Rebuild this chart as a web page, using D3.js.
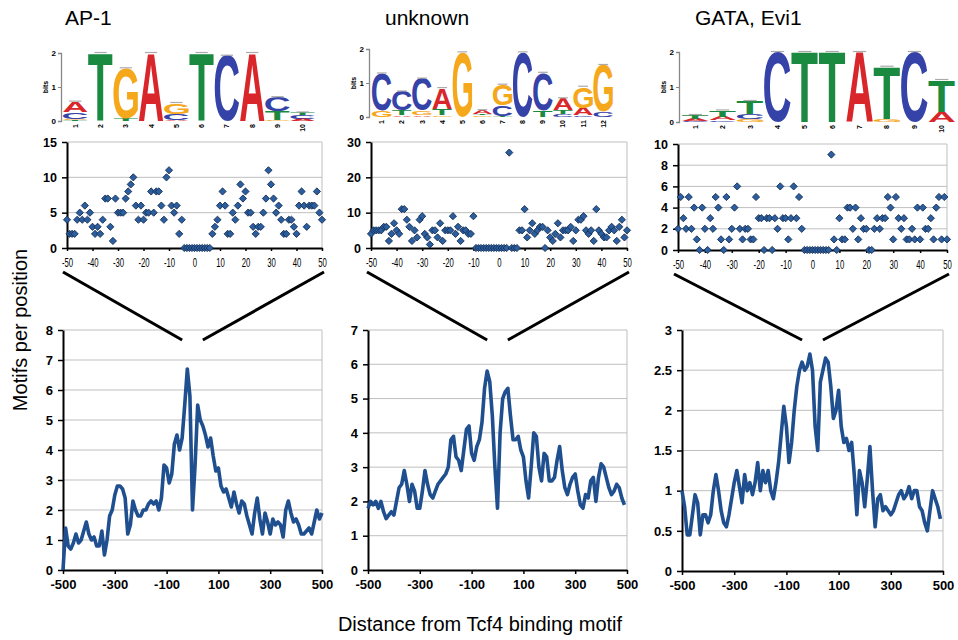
<!DOCTYPE html>
<html><head><meta charset="utf-8">
<script src="https://cdn.jsdelivr.net/npm/d3@7"></script>
<style>
body{margin:0;background:#fff;}
text{font-family:"Liberation Sans",Arial,Helvetica,sans-serif;}
</style>
</head><body>
<svg id="c" width="958" height="640"></svg>
<script>
// ---------------- DATA ----------------
const titles = ["AP-1", "unknown", "GATA, Evi1"];
const yAxisTitle = "Motifs per position";
const xAxisTitle = "Distance from Tcf4 binding motif";

// sequence logos: columns, each a bottom-to-top stack of [letter, bits]
const logoAP1 = [
  [["T",0.03],["G",0.04],["C",0.2],["A",0.3]],
  [["T",2.0]],
  [["T",0.08],["G",1.47]],
  [["A",2.0]],
  [["A",0.04],["C",0.17],["G",0.32]],
  [["T",2.0]],
  [["C",1.92]],
  [["A",2.0]],
  [["G",0.03],["T",0.25],["C",0.42]],
  [["A",0.06],["C",0.12],["T",0.07]]
];
const logoUnknown = [
  [["G",0.18],["C",1.1]],
  [["A",0.05],["T",0.14],["C",0.56]],
  [["A",0.05],["G",0.13],["C",0.95]],
  [["G",0.05],["T",0.2],["A",0.6]],
  [["G",1.9]],
  [["G",0.05],["T",0.05],["A",0.1]],
  [["T",0.03],["C",0.3],["G",0.62]],
  [["C",1.9]],
  [["T",0.2],["C",1.1]],
  [["C",0.08],["T",0.12],["A",0.35]],
  [["C",0.05],["A",0.22],["G",0.62]],
  [["C",0.15],["G",1.38]]
];
const logoGATA = [
  [["C",0.03],["A",0.07],["T",0.1]],
  [["C",0.05],["A",0.1],["T",0.18]],
  [["G",0.08],["C",0.15],["T",0.37]],
  [["C",2.0]],
  [["T",2.0]],
  [["T",2.0]],
  [["A",2.0]],
  [["G",0.08],["T",1.5]],
  [["C",2.0]],
  [["A",0.3],["T",0.9]]
];
const logoTicks = [0, 1, 2];

// zoomed scatter: motifs per position for -50..50
const scatterX = d3.range(-50, 51);
const scatterAP1 = [
  4,2,2,2,4,5,4,6,4,5, 3,2,3,2,4,7,7,3,1,7, 5,5,5,7,8,9,10,6,4,6,
  4,5,5,8,5,8,8,6,4,10, 11,6,5,6,2,4,
  0,0,0,0,0,0,0,0,0,0,0,
  2,3,4,6, 8,6,2,2,5,4,6,9,7,8, 5,5,3,2,3,3,5,7,11,9,
  7,5,6,4,2,2,4,4,3,2, 6,8,6,3,6,6,6,8,5,4
];
const scatterUnknown = [
  4,5,5,5,5,6,6,2,4,7, 5,4,11,11,8,6,2,5,3,8, 9,4,3,1,5,5,3,7,2,5,
  5,5,9,4,6,2,5,5,4,4, 9,
  0,0,0,0,0,0,0,0,0,0,0,0,0,
  27, 0,0,0, 5,5,11,
  3,5,7,4,5,6,6,0,5,3, 2,4,7,3,5,5,5,6,2,5,
  8,8,9,5,4,5,2,11,5,4, 3,3,5,6,5,2,6,8,3,5
];
const scatterGATA = [
  2,5,3,2,5,2,4,1,0,4, 2,0,3,2,5,4,1,0,5,1, 2,4,6,2,1,2,2,1,1,5,
  3,3,0,3,3,0,3,2,6,3, 3,1,3,6,3,5,2,
  0,0,0,0,0,0,0,0,0,0,
  9, 1,0,3,
  1,1,4,4,2,4,1,3,2,2, 0,0,2,3,2,3,3,5,4,1,
  5,3,2,3,1,1,2,1,4,1, 4,2,2,3,1,4,5,1,5,1
];
const scatterXTicks = [-50,-40,-30,-20,-10,0,10,20,30,40,50];
const scatterYTicks = [[0,5,10,15],[0,10,20,30],[0,2,4,6,8,10]];

// full profiles, -500..500 in steps of 10
const lineXAP1 = d3.range(-500, 501, 10);
const lineXOther = d3.range(-500, 491, 10);
const lineAP1 = [
  0.0,1.4,0.8,0.7,0.9,1.2,0.9,1.0,1.3,1.6,
  1.2,1.0,1.1,0.8,0.8,1.3,0.5,1.0,1.8,2.0,
  2.5,2.8,2.8,2.7,2.4,1.2,1.5,2.3,2.0,1.8,
  1.8,2.0,2.0,2.2,2.3,2.2,2.3,2.0,2.4,3.5,
  3.4,2.9,3.2,4.2,4.5,4.0,4.4,5.5,6.7,5.8,
  2.0,3.5,5.5,5.0,4.8,4.5,4.1,4.4,3.8,3.3,
  3.4,2.8,2.6,2.7,2.4,2.1,2.6,2.2,1.9,2.3,
  2.2,1.8,1.5,1.2,1.9,2.4,1.7,1.2,1.9,1.6,
  1.2,1.7,1.5,1.6,1.5,1.1,2.0,2.3,1.9,1.6,
  1.7,1.5,1.2,1.2,1.3,1.4,1.2,1.6,2.0,1.7,
  1.9
];
const lineUnknown = [
  1.8,2.0,1.9,2.0,1.8,2.0,1.7,1.5,1.6,1.7,
  1.6,2.0,2.4,2.5,2.9,2.5,2.0,2.5,2.3,1.8,
  1.8,2.3,2.9,2.5,2.2,2.1,2.3,2.5,2.6,2.7,
  2.8,3.0,3.8,3.9,3.3,3.2,2.9,3.5,4.1,4.2,
  3.4,3.2,3.6,3.8,4.3,5.3,5.8,5.5,4.5,3.0,
  1.8,4.0,5.0,5.2,5.3,4.5,3.8,3.8,3.9,3.5,
  3.3,2.6,2.1,3.0,4.0,3.9,3.0,2.6,3.4,3.3,
  2.6,2.6,2.7,3.2,3.6,2.9,2.4,2.2,2.5,2.7,
  2.8,2.3,1.9,1.8,2.2,2.1,2.6,2.7,2.0,2.7,
  3.1,3.0,2.7,2.4,2.2,2.3,2.5,2.4,2.1,1.9
];
const lineGATA = [
  1.0,0.8,0.45,0.45,0.7,0.95,0.85,0.45,0.7,0.7,
  0.6,0.7,1.0,1.2,1.0,0.75,0.6,0.55,0.7,0.9,
  1.1,1.25,1.05,0.85,1.2,1.0,1.1,0.95,1.1,1.35,
  1.0,1.25,1.1,1.25,1.0,0.9,1.1,1.35,1.7,2.05,
  1.8,1.35,1.6,2.0,2.3,2.5,2.6,2.5,2.55,2.7,
  2.5,1.8,1.5,2.35,2.5,2.65,2.6,2.3,1.9,2.0,
  2.25,1.8,1.6,1.65,1.5,1.6,1.2,0.7,1.25,1.1,
  0.8,1.15,1.55,1.0,0.55,0.9,0.95,0.75,0.8,0.75,
  0.7,0.75,0.85,0.95,1.0,0.9,0.95,1.05,0.9,1.0,
  1.0,0.8,0.75,0.6,0.5,0.75,1.0,0.9,0.8,0.65
];
const lineXTicks = [-500,-300,-100,100,300,500];
const lineYTicks = [[0,1,2,3,4,5,6,7,8],[0,1,2,3,4,5,6,7],[0,0.5,1,1.5,2,2.5,3]];

// ---------------- LAYOUT / STYLE ----------------
const letterColor = {A:"#d8262a", C:"#3543a8", G:"#f6a81c", T:"#1b8a41"};
const lineColor = "#1f4f8e";
const panels = [
  {title:[65,25], logo:{x0:63,x1:315,ax:61,y0:121,y2:53}, sc:{x0:67,x1:322,y0:248,y1:142}, ln:{x0:63,x1:322,y0:570,y1:330}},
  {title:[385,25], logo:{x0:372,x1:613,ax:369,y0:117,y2:49}, sc:{x0:371,x1:627,y0:248,y1:142}, ln:{x0:368,x1:627,y0:570,y1:330}},
  {title:[695,25], logo:{x0:682,x1:955,ax:679,y0:122,y2:52}, sc:{x0:678,x1:947,y0:250,y1:144}, ln:{x0:682,x1:943,y0:571,y1:330}}
];
const logos = [logoAP1, logoUnknown, logoGATA];
const scatters = [scatterAP1, scatterUnknown, scatterGATA];
const lines = [[lineXAP1,lineAP1],[lineXOther,lineUnknown],[lineXOther,lineGATA]];
const plain = d => String(d);   // ASCII hyphen for negatives, as in the reference

const svg = d3.select("#c");

// glyph ink metrics via canvas
const cv = document.createElement("canvas").getContext("2d");
cv.font = "bold 100px 'Liberation Sans'";
const gm = {};
["A","C","G","T"].forEach(ch => {
  const m = cv.measureText(ch);
  gm[ch] = {l:-m.actualBoundingBoxLeft, r:m.actualBoundingBoxRight, a:m.actualBoundingBoxAscent, d:m.actualBoundingBoxDescent};
});

function drawLogo(g, data, L) {
  const n = data.length;
  const x = d3.scaleBand(d3.range(1, n+1), [L.x0, L.x1]).paddingInner(0.03);
  const y = d3.scaleLinear([0, 2], [L.y0, L.y2]);
  data.forEach((col, i) => {
    let cum = 0;
    const cx = x(i+1), w = x.bandwidth();
    col.forEach(([ch, h]) => {
      const yb = y(cum), yt = y(cum + h);
      const m = gm[ch];
      const sx = w / (m.r - m.l), sy = (yb - yt) / (m.a + m.d);
      const tx = cx - m.l * sx, ty = yb - m.d * sy;
      g.append("text").text(ch)
        .attr("font-size", 100).attr("font-weight", "bold")
        .attr("fill", letterColor[ch])
        .attr("transform", `translate(${tx},${ty}) scale(${sx},${sy})`);
      cum += h;
    });
    g.append("line").attr("x1", cx + w*0.25).attr("x2", cx + w*0.75)
      .attr("y1", y(cum) - 0.5).attr("y2", y(cum) - 0.5)
      .attr("stroke", "#aaa").attr("stroke-width", 1.2);
    g.append("text").text(i+1)
      .attr("transform", `translate(${cx + w/2 + 2.5},${L.y0 + 3}) rotate(-90)`)
      .attr("text-anchor", "end").attr("font-size", 7).attr("font-weight", "bold");
  });
  const ax = g.append("g").attr("transform", `translate(${L.ax},0)`)
    .call(d3.axisLeft(y).tickValues(logoTicks).tickSize(3).tickPadding(2).tickFormat(d3.format("d")));
  ax.select(".domain").attr("stroke", "#888").attr("stroke-width", 1.3);
  ax.selectAll(".tick line").attr("stroke", "#888");
  ax.selectAll("text").attr("font-size", 8).attr("font-weight", "bold").attr("font-family", "Liberation Sans");
  g.append("text").text("bits")
    .attr("transform", `translate(${L.ax - 13},${(L.y0 + L.y2)/2}) rotate(-90)`)
    .attr("text-anchor", "middle").attr("font-size", 7).attr("font-weight", "bold");
}

function frame(g, x, y, yTicks, P) {
  g.selectAll(".grid").data(yTicks.filter(t => t !== 0)).join("line")
    .attr("x1", P.x0).attr("x2", P.x1).attr("y1", d => y(d)).attr("y2", d => y(d))
    .attr("stroke", "#bfbfbf").attr("stroke-width", 1);
  g.append("line").attr("x1", P.x1).attr("x2", P.x1).attr("y1", P.y1).attr("y2", P.y0)
    .attr("stroke", "#bfbfbf").attr("stroke-width", 1);
}

function styleAxis(a, fs) {
  a.select(".domain").attr("stroke", "#000").attr("stroke-width", 2);
  a.selectAll(".tick line").attr("stroke", "#000").attr("stroke-width", 1.5);
  a.selectAll("text").attr("font-size", fs).attr("font-weight", "bold")
    .attr("font-family", "Liberation Sans").attr("fill", "#000");
}

panels.forEach((P, k) => {
  svg.append("text").text(titles[k]).attr("x", P.title[0]).attr("y", P.title[1])
    .attr("font-size", 21);
  drawLogo(svg.append("g"), logos[k], P.logo);

  // scatter (zoom-in)
  const S = P.sc;
  const sx = d3.scaleLinear([-50, 50], [S.x0, S.x1]);
  const sy = d3.scaleLinear([0, d3.max(scatterYTicks[k])], [S.y0, S.y1]);
  const gs = svg.append("g");
  frame(gs, sx, sy, scatterYTicks[k], S);
  const ay = gs.append("g").attr("transform", `translate(${S.x0},0)`)
    .call(d3.axisLeft(sy).tickValues(scatterYTicks[k]).tickSize(5).tickPadding(5).tickSizeOuter(0).tickFormat(plain));
  styleAxis(ay, 12.5);
  const ax = gs.append("g").attr("transform", `translate(0,${S.y0})`)
    .call(d3.axisBottom(sx).tickValues(scatterXTicks).tickSize(3).tickPadding(7).tickSizeOuter(0).tickFormat(plain));
  styleAxis(ax, 12.5);
  ax.selectAll("text").attr("font-weight", "normal").attr("transform", "scale(0.62,1)");
  const sym = d3.symbol(d3.symbolSquare, 26);
  gs.selectAll(".pt").data(scatters[k].map((v, i) => [scatterX[i], v])).join("path")
    .attr("d", sym)
    .attr("transform", d => `translate(${sx(d[0])},${sy(d[1])}) rotate(45)`)
    .attr("fill", "#2c5d9c").attr("stroke", "#0f2a52").attr("stroke-width", 0.8);

  // full profile
  const B = P.ln;
  const bx = d3.scaleLinear([-500, 500], [B.x0, B.x1]);
  const by = d3.scaleLinear([0, d3.max(lineYTicks[k])], [B.y0, B.y1]);
  const gl = svg.append("g");
  frame(gl, bx, by, lineYTicks[k], B);
  const by_ax = gl.append("g").attr("transform", `translate(${B.x0},0)`)
    .call(d3.axisLeft(by).tickValues(lineYTicks[k]).tickSize(5).tickPadding(5).tickSizeOuter(0).tickFormat(plain));
  styleAxis(by_ax, 13);
  const bx_ax = gl.append("g").attr("transform", `translate(0,${B.y0})`)
    .call(d3.axisBottom(bx).tickValues(lineXTicks).tickSize(4).tickPadding(6).tickSizeOuter(0).tickFormat(plain));
  styleAxis(bx_ax, 13);
  const [lx, ly] = lines[k];
  gl.append("path").datum(ly.map((v, i) => [lx[i], v]))
    .attr("d", d3.line().x(d => bx(d[0])).y(d => by(d[1])))
    .attr("fill", "none").attr("stroke", lineColor).attr("stroke-width", 3.6)
    .attr("stroke-linejoin", "round");

  // zoom connector lines
  const gz = svg.append("g").attr("stroke", "#000").attr("stroke-width", 3);
  gz.append("line").attr("x1", sx(-50) - 4).attr("y1", S.y0 + 24).attr("x2", bx(-40)).attr("y2", B.y1 + 10);
  gz.append("line").attr("x1", sx(50) + 2).attr("y1", S.y0 + 24).attr("x2", bx(40)).attr("y2", B.y1 + 10);
});

svg.append("text").text(yAxisTitle)
  .attr("transform", "translate(27,330) rotate(-90)")
  .attr("text-anchor", "middle").attr("font-size", 20);
svg.append("text").text(xAxisTitle)
  .attr("x", 480).attr("y", 631)
  .attr("text-anchor", "middle").attr("font-size", 20);
</script>
</body></html>
